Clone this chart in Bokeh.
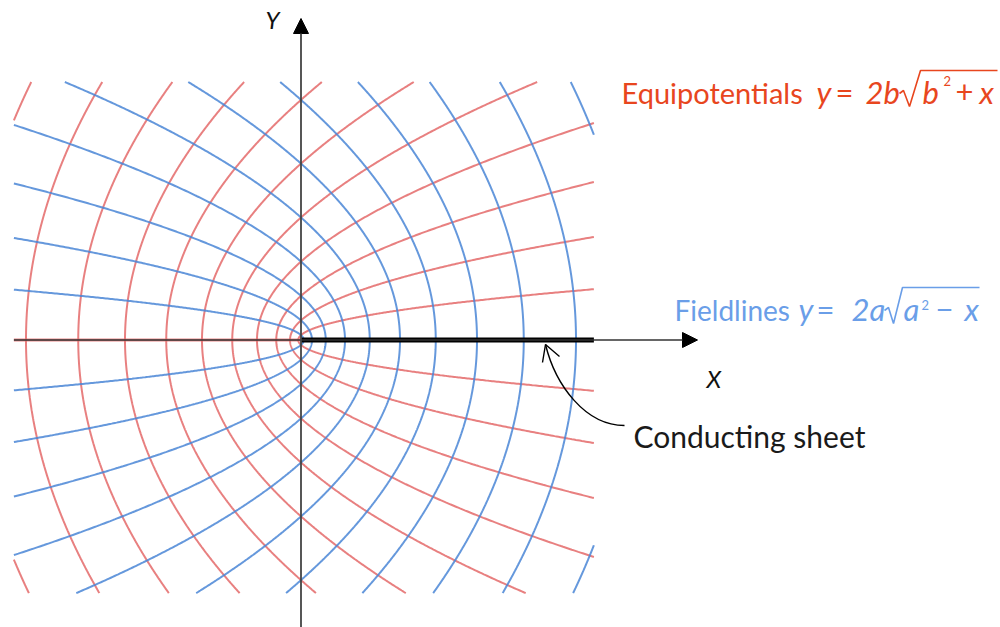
import numpy as np
from bokeh.plotting import figure
from bokeh.models import Range1d, Arrow, NormalHead
from bokeh.core.properties import value
from bokeh.embed import file_html
from bokeh.resources import INLINE

# ---- data -------------------------------------------------------------
fieldline_a = [1, 2, 3, 4, 5, 6, 7, 8, 9, 10, 11]        # y = 2a*sqrt(a^2 - x)
equipotential_b = [1, 2, 3, 4, 5, 6, 7, 8, 9, 10, 11]    # y = 2b*sqrt(b^2 + x)
x_extent = [-104.4, 106.5]     # drawn region of the grid
y_extent = [-103.3, 105.3]

# ---- layout helpers ---------------------------------------------------
W, H = 1000, 627
OX, OY = 300.5, 339.5          # picture position of the origin
SX, SY = 2.75, 2.45            # pixels per unit


def X(px):
    return (px - OX) / SX


def Y(py):
    return (OY - py) / SY


XMIN, XMAX = x_extent
YBOT, YTOP = y_extent

RED = "#e46a6a"
BLUE = "#4a86d6"
RED_TXT = "#e8461e"
BLUE_TXT = "#6a9ee8"
FONT = value("Lato")

p = figure(width=W, height=H, output_backend="svg", toolbar_location=None,
           x_range=Range1d(X(0), X(W)), y_range=Range1d(Y(H), Y(0)),
           x_axis_location=None, y_axis_location=None, min_border=0)
p.grid.grid_line_color = None
p.outline_line_color = None
p.background_fill_color = "white"
p.border_fill_color = "white"


def pieces(lo_abs, top, bot):
    """y-intervals where |y| >= lo_abs, y<=top, y>=-bot"""
    out = []
    if lo_abs <= 0:
        out.append(np.linspace(-bot, top, 600))
    else:
        if lo_abs < top:
            out.append(np.linspace(lo_abs, top, 300))
        if lo_abs < bot:
            out.append(np.linspace(-bot, -lo_abs, 300))
    return out


# equipotentials x = y^2/(4b^2) - b^2
exs, eys = [], []
for b in equipotential_b:
    lim = 2 * b * np.sqrt(b * b + XMAX)
    top, bot = min(YTOP, lim), min(-YBOT, lim)
    lo = 2 * b * np.sqrt(b * b + XMIN) if b * b + XMIN > 0 else 0
    for yy in pieces(lo, top, bot):
        exs.append(yy ** 2 / (4 * b * b) - b * b)
        eys.append(yy)

# fieldlines x = a^2 - y^2/(4a^2)
fxs, fys = [], []
for a in fieldline_a:
    lim = 2 * a * np.sqrt(a * a - XMIN)
    top, bot = min(YTOP, lim), min(-YBOT, lim)
    lo = 2 * a * np.sqrt(a * a - XMAX) if a * a > XMAX else 0
    for yy in pieces(lo, top, bot):
        fxs.append(a * a - yy ** 2 / (4 * a * a))
        fys.append(yy)

p.multi_line(exs, eys, line_color=RED, line_width=2, line_alpha=0.85)
p.multi_line(fxs, fys, line_color=BLUE, line_width=2, line_alpha=0.85)

# negative x axis (red under dark)
p.line([XMIN, 0], [0, 0], line_color=RED, line_width=3, line_alpha=0.8)

# axes with arrows
p.add_layout(Arrow(x_start=XMIN, y_start=0, x_end=X(697), y_end=0,
                   line_color="#333333", line_width=1.5,
                   end=NormalHead(size=15, fill_color="black", line_color="black")))
p.add_layout(Arrow(x_start=0, y_start=Y(640), x_end=0, y_end=Y(18),
                   line_color="#444444", line_width=1.8,
                   end=NormalHead(size=15, fill_color="black", line_color="black")))

# conducting sheet
p.line([0, XMAX], [0, 0], line_color="black", line_width=5)

D = 10  # baseline correction


def txt(px, py, s, color, size="28px", style="normal", d=D):
    p.text(x=[X(px)], y=[Y(py - d)], text=[s], text_font=FONT, text_font_size=size,
           text_font_style=style, text_color=color, text_baseline="alphabetic",
           text_align="left")


# axis labels
txt(265, 28, "Y", "#111111", size="24px", style="italic", d=9)
txt(706, 387, "X", "#111111", size="24px", style="italic", d=9)

M = "31px"
# Equipotentials label
txt(621, 102, "Equipotentials", RED_TXT, size="29px")
txt(816, 102, "y", RED_TXT, size=M, style="italic", d=11)
txt(835, 102, "=", RED_TXT, size=M, d=11)
txt(865, 102, "2b", RED_TXT, size=M, style="italic", d=11)
p.line([X(p_) for p_ in (899, 903, 909, 920, 997)],
       [Y(q) for q in (93, 90, 106, 70, 70)], line_color=RED_TXT, line_width=1.6)
txt(922, 102, "b", RED_TXT, size=M, style="italic", d=11)
txt(943, 85, "2", RED_TXT, size="13px", d=5)
txt(955, 102, "+", RED_TXT, size=M, d=11)
txt(979, 102, "x", RED_TXT, size=M, style="italic", d=11)

# Fieldlines label
txt(674, 319, "Fieldlines", BLUE_TXT)
txt(798, 319, "y", BLUE_TXT, size=M, style="italic", d=11)
txt(816, 319, "=", BLUE_TXT, size=M, d=11)
txt(851, 319, "2a", BLUE_TXT, size=M, style="italic", d=11)
p.line([X(p_) for p_ in (884, 888, 893, 902, 979)],
       [Y(q) for q in (310, 307, 323, 287, 287)], line_color=BLUE_TXT, line_width=1.6)
txt(903, 319, "a", BLUE_TXT, size=M, style="italic", d=11)
txt(921, 309, "2", BLUE_TXT, size="13px", d=5)
txt(935, 319, "\u2212", BLUE_TXT, size=M, d=11)
txt(964, 319, "x", BLUE_TXT, size=M, style="italic", d=11)

# Conducting sheet annotation
txt(633, 445, "Conducting sheet", "#1a1a1a", size="30px")
p.bezier(x0=[X(545)], y0=[Y(344)], x1=[X(624)], y1=[Y(425)],
         cx0=[X(555)], cy0=[Y(385)], cx1=[X(585)], cy1=[Y(425)],
         line_color="black", line_width=1.4)
p.multi_line([[X(542), X(545), X(559)]], [[Y(362), Y(344), Y(356)]],
             line_color="black", line_width=1.4)

open("out.html", "w").write(file_html(p, INLINE))
